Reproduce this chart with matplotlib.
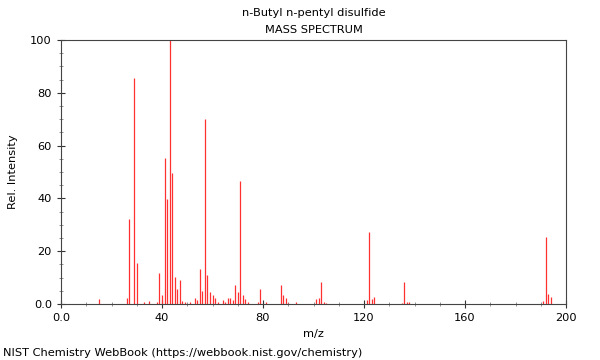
import matplotlib
matplotlib.use("Agg")
import matplotlib.pyplot as plt
from matplotlib.ticker import MultipleLocator, FuncFormatter

title = "n-Butyl n-pentyl disulfide"
subtitle = "MASS SPECTRUM"
credit = "NIST Chemistry WebBook (https://webbook.nist.gov/chemistry)"

mz = [15, 26, 27, 29, 30, 33, 35, 38, 39, 40, 41, 42, 43, 44, 45, 46, 47, 48, 49,
      51, 53, 54, 55, 56, 57, 58, 59, 60, 61, 62, 64, 65, 66, 67, 68, 69, 70, 71,
      72, 73, 74, 78, 79, 81, 87, 88, 89, 90, 93, 101, 102, 103, 104, 105, 121,
      122, 123, 124, 135, 136, 137, 138, 191, 192, 193, 194]
intensity = [2.0, 2.3, 32.2, 85.6, 15.5, 0.8, 1.1, 0.8, 11.9, 3.4, 55.3, 39.6, 100.0,
             49.6, 10.2, 5.7, 9.1, 1.0, 0.8, 0.8, 2.4, 1.6, 13.3, 5.1, 70.1, 11.0,
             4.4, 3.4, 2.3, 0.6, 1.6, 0.9, 2.4, 2.3, 1.6, 7.2, 4.5, 46.6, 3.4, 1.9,
             0.9, 0.8, 5.7, 0.6, 7.1, 3.3, 2.4, 0.5, 0.8, 1.8, 2.3, 8.3, 0.8, 0.5,
             1.4, 27.2, 1.9, 2.7, 0.5, 8.2, 0.8, 0.8, 1.1, 25.2, 3.6, 2.5]

fs = 8.2
fig = plt.figure(figsize=(6, 3.6), dpi=100)
ax = fig.add_axes([61/600, 1-304/360, (566-61)/600, (304-40)/360])
ax.vlines(mz, 0, intensity, color="#ff3030", linewidth=0.9)

ax.set_xlim(0, 200)
ax.set_ylim(0, 100)
ax.xaxis.set_major_locator(MultipleLocator(40))
ax.xaxis.set_minor_locator(MultipleLocator(10))
ax.yaxis.set_major_locator(MultipleLocator(20))
ax.yaxis.set_minor_locator(MultipleLocator(5))
fmt = FuncFormatter(lambda v, p: "0.0" if v == 0 else f"{v:.0f}")
ax.xaxis.set_major_formatter(fmt)
ax.yaxis.set_major_formatter(fmt)
ax.tick_params(which="major", direction="inout", length=6, width=0.8, labelsize=fs, colors="#333333", labelcolor="black")
ax.tick_params(which="minor", direction="inout", length=3, width=0.5, colors="#666666")
for s in ax.spines.values():
    s.set_color("#444444")
    s.set_linewidth(0.8)

ax.set_xlabel("m/z", fontsize=fs, labelpad=4)
ax.set_ylabel("Rel. Intensity", fontsize=fs, labelpad=9)
fig.text(314/600, 1-13/360, title, ha="center", va="center", fontsize=fs)
fig.text(314/600, 1-30/360, subtitle, ha="center", va="center", fontsize=fs)
fig.text(3/600, 1-353/360, credit, ha="left", va="center", fontsize=fs)

fig.savefig("out.png", dpi=100)
